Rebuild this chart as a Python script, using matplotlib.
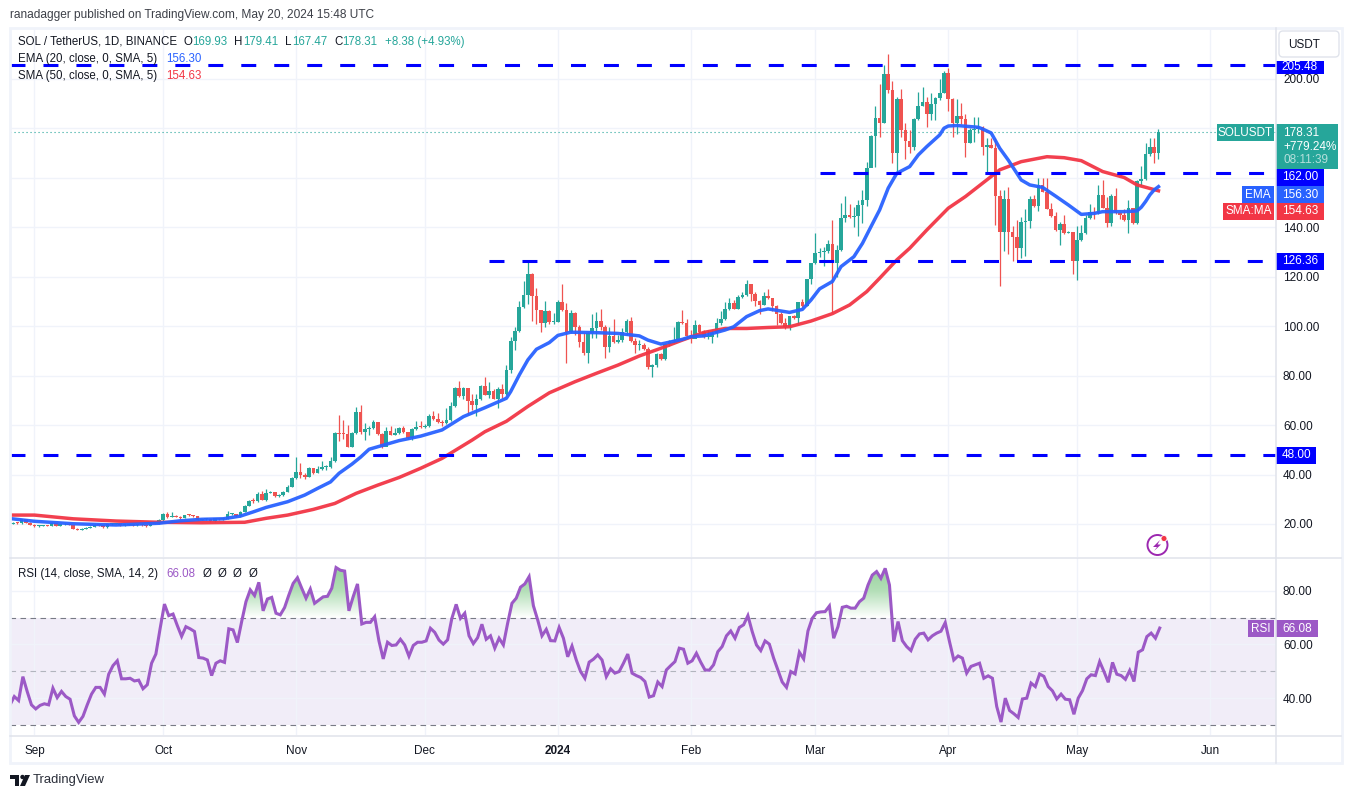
"""SOL / USDT daily candles with EMA, SMA and RSI, TradingView layout."""

import matplotlib

matplotlib.use("Agg")
import matplotlib.dates as mdates
import matplotlib.pyplot as plt
import numpy as np
import pandas as pd
from matplotlib.colors import LinearSegmentedColormap
from matplotlib.patches import Circle, FancyBboxPatch, Polygon, Rectangle
from matplotlib.path import Path

plt.rcParams["font.family"] = ["Liberation Sans", "DejaVu Sans"]

# daily candles, 2023-08-27 to 2024-05-20, one line per month
first_open = 20.1
closes = [
    20.5, 20.3, 21.9, 20.5, 19.7,
    19.0, 19.2, 19.3, 19.2, 20.5, 19.3, 19.8, 20.0, 19.6, 18.0, 17.6, 18.0, 18.4, 18.9, 19.5, 19.4, 18.6, 19.9, 20.0, 20.3, 19.4, 19.6, 19.7, 19.5, 19.6, 19.4, 19.1, 20.1, 20.3, 21.5,
    24.2, 23.0, 23.4, 23.0, 22.4, 23.6, 23.5, 23.2, 21.7, 21.9, 22.0, 21.1, 22.3, 22.0, 22.1, 24.0, 24.0, 23.2, 25.0, 27.4, 29.2, 29.1, 32.1, 29.7, 32.6, 32.9, 31.3, 31.6, 33.0, 35.1, 38.6,
    41.0, 39.7, 38.9, 42.6, 40.6, 42.1, 42.9, 43.0, 45.4, 56.9, 56.5, 56.4, 51.2, 56.9, 65.2, 57.3, 58.4, 58.8, 61.2, 56.4, 51.2, 57.7, 56.1, 56.6, 58.8, 57.3, 54.6, 58.4, 59.3, 59.2,
    59.7, 63.8, 62.4, 61.2, 60.9, 62.0, 67.7, 74.9, 71.7, 74.8, 69.8, 68.1, 70.5, 75.7, 72.1, 73.7, 70.6, 74.4, 72.5, 82.2, 93.9, 98.0, 107.7, 112.5, 121.0, 112.3, 106.5, 101.3, 106.0, 101.5, 101.8,
    109.8, 106.4, 97.7, 105.4, 99.4, 93.7, 89.2, 97.0, 99.0, 102.0, 99.4, 91.6, 96.0, 93.7, 94.3, 97.7, 102.0, 94.0, 92.3, 92.3, 90.7, 83.6, 84.2, 88.7, 86.7, 92.6, 94.0, 94.3, 101.7, 101.3, 96.0,
    94.6, 100.4, 97.7, 95.4, 95.6, 97.0, 101.3, 102.8, 106.7, 109.4, 106.9, 111.6, 112.5, 117.0, 112.9, 110.2, 108.5, 112.1, 111.2, 108.0, 104.7, 101.3, 99.4, 104.0, 103.2, 109.8, 108.2, 119.0, 125.3,
    129.4, 129.8, 130.3, 133.0, 125.3, 130.7, 143.5, 144.9, 144.2, 144.5, 148.9, 151.0, 163.7, 176.8, 184.0, 181.9, 201.7, 195.4, 169.8, 191.6, 179.0, 174.9, 172.5, 183.7, 188.9, 190.7, 185.7, 189.7, 192.3, 194.0, 202.4,
    191.6, 181.9, 184.9, 183.5, 174.1, 179.0, 179.5, 180.6, 172.2, 173.0, 172.1, 152.7, 138.1, 151.3, 138.1, 136.1, 131.7, 142.2, 142.4, 151.3, 148.5, 157.0, 154.3, 147.4, 144.5, 138.8, 141.2, 137.5, 137.9, 126.4,
    134.8, 137.5, 143.8, 145.9, 145.5, 153.0, 147.8, 141.8, 152.7, 145.5, 144.9, 142.8, 147.6, 141.5, 158.6, 159.3, 169.5, 172.5, 169.93, 178.31,
]
highs = [
    20.7, 20.7, 22.2, 22.0, 20.7,
    19.8, 19.5, 19.6, 19.5, 20.8, 20.6, 20.1, 20.3, 20.1, 19.7, 18.2, 18.5, 18.7, 19.2, 19.8, 19.7, 19.5, 20.2, 20.4, 20.6, 20.4, 19.9, 20.0, 19.9, 19.9, 19.8, 19.6, 20.4, 20.6, 21.9,
    24.4, 24.8, 24.7, 23.7, 23.3, 23.8, 24.0, 23.7, 23.4, 22.2, 22.3, 22.2, 22.6, 22.5, 22.4, 25.3, 24.6, 24.1, 25.4, 27.8, 29.6, 30.7, 33.0, 33.4, 34.0, 33.2, 33.0, 32.0, 33.4, 35.6, 38.9,
    46.9, 44.5, 40.6, 42.9, 42.6, 43.6, 45.4, 44.0, 47.0, 57.2, 64.0, 62.0, 60.0, 57.2, 67.4, 68.0, 60.7, 59.5, 62.0, 61.4, 56.6, 59.1, 59.6, 58.9, 59.0, 59.5, 57.0, 58.7, 61.7, 61.7,
    60.3, 64.6, 65.6, 65.0, 61.9, 66.7, 69.3, 75.5, 77.8, 75.4, 75.0, 72.5, 72.4, 76.2, 79.5, 77.5, 74.4, 75.5, 76.6, 84.2, 95.4, 99.7, 110.2, 118.2, 126.7, 121.3, 115.3, 106.2, 110.2, 106.5, 105.1,
    110.5, 117.0, 109.1, 106.5, 105.5, 100.4, 97.0, 97.7, 105.0, 105.5, 107.0, 100.4, 99.5, 102.8, 96.3, 99.0, 102.8, 103.8, 95.0, 94.3, 93.0, 91.6, 84.5, 89.0, 89.2, 93.0, 94.5, 99.5, 102.1, 106.4, 102.8,
    98.4, 102.4, 100.8, 98.4, 98.4, 98.4, 103.1, 106.2, 109.6, 111.5, 110.5, 112.6, 113.9, 118.6, 117.0, 113.9, 110.5, 113.9, 114.8, 111.2, 108.5, 105.5, 103.1, 103.5, 104.5, 105.0, 111.0, 112.2, 119.5,
    137.5, 131.7, 132.0, 134.8, 142.9, 132.8, 149.6, 152.6, 149.3, 148.2, 150.9, 155.0, 166.4, 177.2, 188.9, 197.8, 205.5, 209.9, 198.8, 192.7, 195.7, 181.9, 179.0, 183.9, 194.7, 196.7, 192.7, 194.0, 192.7, 199.7, 203.2,
    204.1, 192.0, 191.6, 190.0, 185.7, 180.0, 184.6, 184.6, 180.9, 176.0, 176.0, 175.9, 155.0, 155.0, 156.0, 140.4, 142.8, 143.9, 147.3, 152.7, 153.0, 159.7, 159.7, 159.7, 149.6, 146.2, 142.0, 144.9, 138.5, 137.5,
    140.5, 140.8, 145.0, 149.3, 148.0, 157.0, 159.0, 152.0, 153.2, 155.6, 146.2, 147.2, 151.0, 147.8, 159.0, 164.7, 173.8, 175.9, 175.9, 179.41,
]
lows = [
    20.0, 20.0, 20.2, 20.3, 19.5,
    18.8, 18.9, 19.0, 19.0, 19.1, 19.2, 19.2, 19.6, 19.4, 17.8, 17.4, 17.5, 17.9, 18.2, 18.8, 19.2, 18.4, 18.5, 19.7, 19.9, 19.2, 19.2, 19.4, 19.3, 19.3, 19.2, 18.9, 19.0, 19.9, 20.1,
    21.0, 22.6, 22.8, 22.8, 22.2, 22.3, 23.3, 23.0, 21.5, 21.5, 21.7, 20.9, 21.0, 21.7, 21.8, 22.0, 23.5, 23.0, 23.0, 24.9, 27.2, 28.6, 29.0, 29.5, 29.4, 32.4, 31.0, 31.0, 31.4, 32.8, 34.9,
    38.0, 38.5, 38.3, 38.8, 40.2, 40.5, 42.0, 42.0, 42.8, 44.9, 53.7, 54.2, 51.0, 51.0, 56.5, 56.4, 54.0, 56.0, 58.2, 56.0, 50.9, 51.5, 55.9, 55.9, 56.5, 56.8, 54.2, 54.0, 57.8, 58.9,
    58.9, 59.0, 62.1, 60.8, 59.6, 60.4, 61.6, 67.4, 71.5, 70.5, 64.0, 66.0, 63.8, 70.0, 72.0, 70.8, 70.4, 67.0, 70.8, 72.3, 81.1, 90.3, 97.7, 107.2, 109.0, 102.2, 101.0, 97.5, 99.5, 100.8, 100.8,
    101.5, 106.0, 85.2, 97.2, 96.3, 91.6, 88.3, 85.2, 95.0, 95.3, 98.4, 87.2, 89.6, 93.2, 93.2, 93.7, 96.4, 93.7, 89.0, 90.3, 90.3, 82.5, 79.2, 83.6, 86.2, 86.2, 91.9, 93.0, 95.4, 101.0, 95.9,
    93.3, 97.6, 97.3, 95.0, 94.6, 93.0, 95.6, 100.4, 102.4, 106.5, 106.7, 106.9, 111.5, 112.0, 110.0, 108.0, 105.0, 108.5, 110.8, 106.0, 100.4, 100.8, 98.6, 98.4, 102.8, 100.8, 107.5, 108.0, 117.0,
    125.0, 128.0, 124.3, 129.4, 105.4, 120.0, 130.5, 142.2, 143.8, 140.2, 136.5, 141.8, 148.6, 164.1, 164.4, 176.5, 181.9, 194.0, 165.8, 161.7, 176.5, 167.6, 169.8, 171.1, 183.3, 188.7, 180.3, 183.3, 183.3, 191.4, 194.0,
    187.0, 176.3, 177.6, 181.6, 168.2, 173.8, 174.5, 177.9, 169.1, 162.1, 171.8, 140.8, 116.3, 130.3, 129.0, 126.3, 126.7, 127.6, 128.4, 139.7, 148.2, 146.6, 154.0, 147.1, 144.2, 138.5, 132.7, 137.1, 137.4, 121.0,
    118.6, 134.4, 137.0, 143.2, 143.2, 145.3, 147.5, 139.9, 140.4, 145.2, 143.1, 142.6, 137.7, 141.2, 141.2, 157.0, 159.0, 168.7, 166.0, 167.47,
]

# moving averages, read at irregular dates
ema_days = ["2023-08-26 07:00", "2023-09-01", "2023-09-10", "2023-09-20", "2023-09-30", "2023-10-05", "2023-10-10", "2023-10-15", "2023-10-19", "2023-10-22", "2023-10-25", "2023-10-30", "2023-11-03", "2023-11-06", "2023-11-09", "2023-11-11", "2023-11-14", "2023-11-16", "2023-11-18", "2023-11-21", "2023-11-25", "2023-11-30", "2023-12-05", "2023-12-10", "2023-12-15", "2023-12-20", "2023-12-21", "2023-12-23", "2023-12-25", "2023-12-27", "2023-12-30", "2024-01-01", "2024-01-04", "2024-01-10", "2024-01-15", "2024-01-20", "2024-01-22", "2024-01-25", "2024-01-30", "2024-02-01", "2024-02-04", "2024-02-09", "2024-02-11", "2024-02-14", "2024-02-17", "2024-02-19", "2024-02-24", "2024-02-27", "2024-02-29", "2024-03-02", "2024-03-05", "2024-03-07", "2024-03-10", "2024-03-12", "2024-03-14", "2024-03-16", "2024-03-18", "2024-03-20", "2024-03-23", "2024-03-25", "2024-03-27", "2024-03-30", "2024-03-31", "2024-04-01", "2024-04-03", "2024-04-08", "2024-04-09", "2024-04-11", "2024-04-13", "2024-04-15", "2024-04-18", "2024-04-20", "2024-04-23", "2024-04-26", "2024-04-29", "2024-05-02", "2024-05-05", "2024-05-07", "2024-05-12", "2024-05-15", "2024-05-16", "2024-05-17", "2024-05-18", "2024-05-19", "2024-05-20"]
ema_values = [22.2, 21.1, 20.1, 19.6, 20.3, 21.3, 21.9, 22.1, 23.2, 24.9, 26.7, 29.0, 31.7, 34.4, 37.0, 40.5, 44.2, 47.0, 50.2, 51.7, 53.7, 55.5, 58.0, 63.4, 67.0, 70.8, 73.5, 80.2, 86.3, 90.6, 93.3, 96.2, 97.5, 97.3, 97.0, 96.0, 94.3, 92.7, 94.6, 95.7, 96.0, 98.4, 99.7, 103.8, 106.2, 106.9, 105.5, 106.7, 110.5, 115.0, 118.0, 124.0, 128.0, 133.4, 140.2, 146.9, 155.7, 161.7, 164.4, 169.1, 172.5, 177.2, 179.9, 180.8, 181.0, 180.3, 179.6, 178.0, 171.8, 167.0, 159.0, 157.0, 156.0, 152.5, 148.9, 145.1, 145.5, 146.2, 146.2, 146.5, 148.0, 150.3, 153.0, 155.0, 156.3]
sma_days = ["2023-08-26 07:00", "2023-09-01", "2023-09-10", "2023-09-20", "2023-09-30", "2023-10-10", "2023-10-20", "2023-10-25", "2023-10-30", "2023-11-05", "2023-11-10", "2023-11-15", "2023-11-20", "2023-11-25", "2023-11-30", "2023-12-05", "2023-12-12", "2023-12-15", "2023-12-20", "2023-12-25", "2023-12-30", "2024-01-05", "2024-01-10", "2024-01-15", "2024-01-20", "2024-01-25", "2024-01-30", "2024-02-04", "2024-02-09", "2024-02-14", "2024-02-19", "2024-02-24", "2024-02-29", "2024-03-05", "2024-03-09", "2024-03-13", "2024-03-16", "2024-03-20", "2024-03-23", "2024-03-27", "2024-04-01", "2024-04-05", "2024-04-09", "2024-04-13", "2024-04-18", "2024-04-24", "2024-04-28", "2024-05-02", "2024-05-07", "2024-05-12", "2024-05-15", "2024-05-20"]
sma_values = [23.6, 23.6, 22.1, 21.2, 20.7, 20.5, 20.7, 22.3, 23.6, 25.9, 28.3, 32.4, 35.7, 38.8, 42.5, 46.5, 53.9, 57.3, 61.5, 67.5, 73.0, 77.5, 80.9, 84.2, 87.9, 91.0, 94.3, 97.4, 99.0, 99.0, 99.4, 99.7, 102.0, 105.0, 108.5, 113.9, 119.3, 126.7, 131.4, 138.8, 147.6, 152.3, 157.7, 163.1, 166.4, 168.4, 168.0, 166.8, 162.4, 160.0, 157.0, 154.63]

# RSI, daily from 2023-08-26, one line per month
rsi_values = [
    37.5, 40.6, 39.1, 48.0, 42.5, 37.5,
    36.0, 37.3, 37.9, 37.5, 43.7, 40.2, 42.5, 40.6, 39.6, 33.4, 31.0, 33.2, 37.5, 41.5, 44.0, 44.0, 41.5, 48.9, 52.1, 53.9, 47.2, 47.2, 47.4, 46.4, 46.7, 43.5, 45.0, 53.0, 56.4, 66.0,
    75.0, 70.7, 71.3, 67.0, 63.0, 66.6, 65.8, 64.8, 55.1, 54.9, 54.2, 48.4, 53.0, 53.9, 53.3, 65.8, 65.4, 60.7, 68.5, 75.9, 80.3, 78.2, 83.1, 72.5, 76.9, 77.5, 71.6, 71.0, 73.7, 78.4, 82.7,
    84.8, 80.9, 77.2, 80.6, 75.3, 76.5, 77.7, 77.9, 80.9, 88.6, 87.6, 87.3, 72.5, 77.8, 82.5, 67.6, 68.2, 68.2, 70.3, 61.3, 54.6, 60.8, 59.6, 59.8, 61.9, 59.8, 55.6, 59.6, 60.8, 60.8,
    61.3, 66.0, 64.5, 61.6, 60.1, 61.7, 69.7, 74.9, 69.7, 71.6, 63.2, 60.3, 62.5, 67.5, 61.9, 63.2, 58.6, 62.3, 59.8, 67.9, 75.3, 77.2, 81.3, 82.5, 85.2, 74.4, 69.1, 63.2, 65.6, 61.4, 61.3,
    66.3, 62.3, 55.4, 59.4, 54.2, 49.9, 47.4, 53.4, 54.5, 56.1, 54.2, 48.0, 50.9, 49.3, 49.9, 53.0, 56.4, 49.3, 48.4, 47.7, 46.2, 40.4, 40.9, 46.0, 44.3, 50.5, 52.1, 53.6, 58.6, 58.2, 53.0,
    53.9, 56.7, 53.4, 50.5, 50.4, 52.4, 57.3, 59.2, 63.2, 65.0, 62.3, 66.3, 67.3, 70.7, 64.8, 59.8, 57.7, 61.3, 60.1, 54.9, 50.5, 46.0, 44.0, 49.9, 49.0, 57.1, 54.6, 65.0, 69.7,
    71.8, 72.1, 72.2, 74.3, 62.3, 66.6, 73.8, 74.2, 73.5, 73.5, 75.9, 77.2, 82.1, 85.8, 87.1, 84.6, 88.3, 82.1, 61.0, 68.5, 61.4, 59.2, 57.7, 61.9, 63.9, 64.2, 61.7, 63.2, 64.2, 64.9, 68.1,
    61.0, 54.2, 55.7, 54.9, 49.3, 51.8, 52.4, 53.0, 47.4, 48.3, 47.4, 36.9, 31.1, 40.0, 35.4, 34.2, 32.8, 39.7, 40.0, 45.6, 44.3, 49.0, 48.1, 44.3, 42.7, 39.7, 41.5, 39.6, 39.4, 34.0,
    40.0, 42.8, 47.2, 48.7, 48.4, 53.6, 49.9, 45.9, 53.3, 48.9, 48.4, 47.0, 50.3, 46.2, 57.1, 58.0, 62.9, 64.2, 62.3, 66.08,
]

# horizontal levels drawn on the chart and the day each one starts
levels = [205.48, 162.00, 126.36, 48.00]
level_starts = ["2023-08-26 07:00", "2024-03-02", "2023-12-16", "2023-08-26 07:00"]

price_ticks = [20, 40, 60, 80, 100, 120, 140, 160, 180, 200]
price_tick_labels = ["20.00", "40.00", "60.00", "80.00", "100.00", "120.00", "140.00", "", "", "200.00"]
rsi_ticks = [40, 60, 80]
rsi_tick_labels = ["40.00", "60.00", "80.00"]
month_days = ["2023-09-01", "2023-10-01", "2023-11-01", "2023-12-01", "2024-01-01", "2024-02-01", "2024-03-01", "2024-04-01", "2024-05-01", "2024-06-01"]
month_labels = ["Sep", "Oct", "Nov", "Dec", "2024", "Feb", "Mar", "Apr", "May", "Jun"]

GREEN = "#26a69a"
RED = "#ef5350"
BLUE = "#2962ff"
MA_RED = "#f23645"
PURPLE = "#9c59c6"
TEXT = "#131722"
GRID = "#f0f3fa"
BORDER = "#e0e3eb"
W, H = 1353, 798
PX_PER_DAY = 4.29
FS = 8.5
LEGEND_FS = 8.3


def pane(fig, x0, y0, x1, y1):
    # axes placed by pixel box, y measured from the top of the figure
    ax = fig.add_axes([x0 / W, 1 - y1 / H, (x1 - x0) / W, (y1 - y0) / H])
    for spine in ax.spines.values():
        spine.set_visible(False)
    return ax


def tag(over, x0, y0, x1, y1, color, text):
    over.add_patch(Rectangle((x0, y0), x1 - x0, y1 - y0, fc=color, ec="none"))
    over.text((x0 + x1) / 2, (y0 + y1) / 2, text, color="white", ha="center", va="center", fontsize=FS)


def to_num(stamps):
    return mdates.date2num(pd.to_datetime(stamps, format="ISO8601"))


days = mdates.date2num(pd.date_range("2023-08-27", periods=len(closes)))
rsi_days = mdates.date2num(pd.date_range("2023-08-26 07:00", periods=len(rsi_values)))
opens = [first_open] + closes[:-1]
o = np.array(opens)
c = np.array(closes)
sep_1 = mdates.date2num(pd.Timestamp("2023-09-01"))
xlim = (sep_1 - (34.5 - 10) / PX_PER_DAY, sep_1 + (1276 - 34.5) / PX_PER_DAY)
months = to_num(month_days)
price_ylim = (20 + (524 - 557) / 2.475, 20 + (524 - 29) / 2.475)
rsi_ylim = (30 - (735 - 725) / 2.69, 80 + (590.7 - 558) / 2.69)

fig = plt.figure(figsize=(W / 100, H / 100), dpi=100, facecolor="white")
ax = pane(fig, 10, 29, 1276, 557)
ax2 = pane(fig, 10, 558, 1276, 735)

# price pane
ax.set_xlim(xlim)
ax.set_ylim(price_ylim)
ax.set_xticks(months)
ax.set_yticks(price_ticks, price_tick_labels)
ax.grid(True, color=GRID, lw=1)
ax.set_axisbelow(True)
ax.tick_params(axis="x", length=0, labelbottom=False)
ax.tick_params(axis="y", length=0, labelleft=False, labelright=True, pad=5, labelsize=FS, labelcolor=TEXT)

colors = np.where(c >= o, GREEN, RED)
ax.vlines(days, lows, highs, colors=colors, lw=0.9, zorder=2)
ax.bar(days, np.maximum(np.abs(c - o), 0.4), bottom=np.minimum(o, c), width=0.85, color=colors, lw=0, zorder=3)

ax.plot(to_num(sma_days), sma_values, color=MA_RED, lw=2.5, alpha=0.95, zorder=4)
ax.plot(to_num(ema_days), ema_values, color=BLUE, lw=2.5, alpha=0.95, zorder=5)

for level, start in zip(levels, level_starts):
    x_start = mdates.date2num(pd.Timestamp(start))
    ax.plot([x_start, xlim[1]], [level, level], color="#0000ff", lw=2.2, dashes=(4.9, 5.89), dash_capstyle="butt", zorder=6)
ax.axhline(closes[-1], color=GREEN, lw=0.8, ls=(0, (1, 2.6)), zorder=1)

# RSI pane
ax2.set_xlim(xlim)
ax2.set_ylim(rsi_ylim)
ax2.set_xticks(months, month_labels)
ax2.set_yticks(rsi_ticks, rsi_tick_labels)
ax2.grid(True, color=GRID, lw=1)
ax2.set_axisbelow(True)
ax2.tick_params(axis="x", length=0, pad=7, labelsize=FS, labelcolor=TEXT)
ax2.tick_params(axis="y", length=0, labelleft=False, labelright=True, pad=5, labelsize=FS, labelcolor=TEXT)
ax2.get_xticklabels()[4].set_fontweight("bold")

ax2.axhspan(30, 70, color="#7e57c2", alpha=0.1, lw=0, zorder=0.5)
ax2.axhline(70, color="#787b86", lw=0.8, dashes=(5, 4))
ax2.axhline(50, color="#b2b5be", lw=0.8, dashes=(5, 4))
ax2.axhline(30, color="#787b86", lw=0.8, dashes=(5, 4))

above = ax2.fill_between(rsi_days, 70, rsi_values, where=np.array(rsi_values) >= 70, interpolate=True, color="none", lw=0)
clip = Path.make_compound_path(*above.get_paths())
fade = LinearSegmentedColormap.from_list("fade", ["#ffffff", "#b4dfb8", "#93cf99"])
grad = ax2.imshow(np.linspace(1, 0, 64).reshape(-1, 1), cmap=fade, aspect="auto", extent=(xlim[0], xlim[1], 70, 90), zorder=1.5)
grad.set_clip_path(clip, ax2.transData)
ax2.set_xlim(xlim)
ax2.set_ylim(rsi_ylim)
ax2.plot(rsi_days, rsi_values, color=PURPLE, lw=2.2, zorder=4, solid_joinstyle="miter")

# overlay in pixel coordinates for the frame, legends and value tags
over = fig.add_axes([0, 0, 1, 1], facecolor="none", zorder=10)
over.set_xlim(0, W)
over.set_ylim(H, 0)
over.axis("off")

over.add_patch(Rectangle((9.5, 27.5), 1332, 735, fc="none", ec=GRID, lw=2))
over.plot([1276, 1276], [28, 763], color=BORDER, lw=1.1)
over.plot([10, 1341], [557.5, 557.5], color=BORDER, lw=1.1)
over.plot([10, 1341], [735.5, 735.5], color=BORDER, lw=1.1)

over.text(10, 15, "ranadagger published on TradingView.com, May 20, 2024 15:48 UTC", color="#3d4048", fontsize=LEGEND_FS + 0.3, va="center")

over.text(18, 42, "SOL / TetherUS, 1D, BINANCE", color=TEXT, fontsize=LEGEND_FS, va="center")
for x_pos, letter in zip([183, 234, 285, 334], "OHLC"):
    over.text(x_pos, 42, letter, color=TEXT, fontsize=LEGEND_FS, va="center")
for x_pos, value in zip([192, 243, 292, 342], [f"{opens[-1]:.2f}", f"{highs[-1]:.2f}", f"{lows[-1]:.2f}", f"{closes[-1]:.2f}"]):
    over.text(x_pos, 42, value, color=GREEN, fontsize=LEGEND_FS, va="center")
over.text(385, 42, "+8.38 (+4.93%)", color=GREEN, fontsize=LEGEND_FS, va="center")
over.text(18, 59, "EMA (20, close, 0, SMA, 5)", color=TEXT, fontsize=LEGEND_FS, va="center")
over.text(166, 59, f"{ema_values[-1]:.2f}", color=BLUE, fontsize=LEGEND_FS, va="center")
over.text(18, 76, "SMA (50, close, 0, SMA, 5)", color=TEXT, fontsize=LEGEND_FS, va="center")
over.text(166, 76, f"{sma_values[-1]:.2f}", color=MA_RED, fontsize=LEGEND_FS, va="center")
over.text(18, 574, "RSI (14, close, SMA, 14, 2)", color=TEXT, fontsize=LEGEND_FS, va="center")
over.text(166, 574, f"{rsi_values[-1]:.2f}", color=PURPLE, fontsize=LEGEND_FS, va="center")
for x_pos in [207, 222, 237, 253]:
    over.text(x_pos, 574, "Ø", color=TEXT, fontsize=LEGEND_FS, va="center", ha="center")

# price scale button and tags
over.add_patch(FancyBboxPatch((1281, 33), 56, 22, boxstyle="round,pad=2,rounding_size=4", fc="white", ec=BORDER, lw=1))
over.text(1288, 44.5, "USDT", color=TEXT, fontsize=FS, va="center")

tag(over, 1276, 61, 1324, 74, "#0000ff", f"{levels[0]:.2f}")
tag(over, 1276, 169, 1324, 186, "#0000ff", f"{levels[1]:.2f}")
tag(over, 1276, 253, 1324, 270, "#0000ff", f"{levels[2]:.2f}")
tag(over, 1276, 447, 1316, 464, "#0000ff", f"{levels[3]:.2f}")
tag(over, 1276, 186, 1324, 203, BLUE, f"{ema_values[-1]:.2f}")
tag(over, 1242, 186, 1274, 203, BLUE, "EMA")
tag(over, 1276, 203, 1324, 220, MA_RED, f"{sma_values[-1]:.2f}")
tag(over, 1223, 203, 1274, 220, MA_RED, "SMA:MA")
tag(over, 1217, 124, 1274, 141, GREEN, "SOLUSDT")
over.add_patch(Rectangle((1276, 124), 62, 45, fc=GREEN, ec="none"))
over.text(1283, 132.5, f"{closes[-1]:.2f}", color="white", fontsize=FS, va="center")
over.text(1283, 146.5, "+779.24%", color="white", fontsize=FS, va="center")
over.text(1283, 160, "08:11:39", color="#b5e0dc", fontsize=FS, va="center")
tag(over, 1248, 620, 1274, 637, PURPLE, "RSI")
tag(over, 1276, 620, 1318, 637, PURPLE, f"{rsi_values[-1]:.2f}")

# lightning badge
over.add_patch(Circle((1157.5, 545), 10, fc="white", ec="#9c27b0", lw=1.4))
over.add_patch(Polygon([(1160, 540), (1153, 547), (1157, 547), (1154, 551), (1161, 544.5), (1157.5, 544.5)], fc="#9c27b0", ec="none"))
over.add_patch(Circle((1164, 538.5), 3, fc="#f23645", ec="white", lw=0.6))

# TradingView mark
over.add_patch(Polygon([(10, 775), (19, 775), (19, 786), (15, 786), (15, 779), (10, 779)], fc=TEXT, ec="none"))
over.add_patch(Circle((22.5, 777), 2.2, fc=TEXT, ec="none"))
over.add_patch(Polygon([(25, 775), (30, 775), (25, 786), (20, 786)], fc=TEXT, ec="none"))
over.text(33, 780.5, "TradingView", color="#2a2e39", fontsize=9.4, va="center")

fig.savefig("out.png", dpi=100)
